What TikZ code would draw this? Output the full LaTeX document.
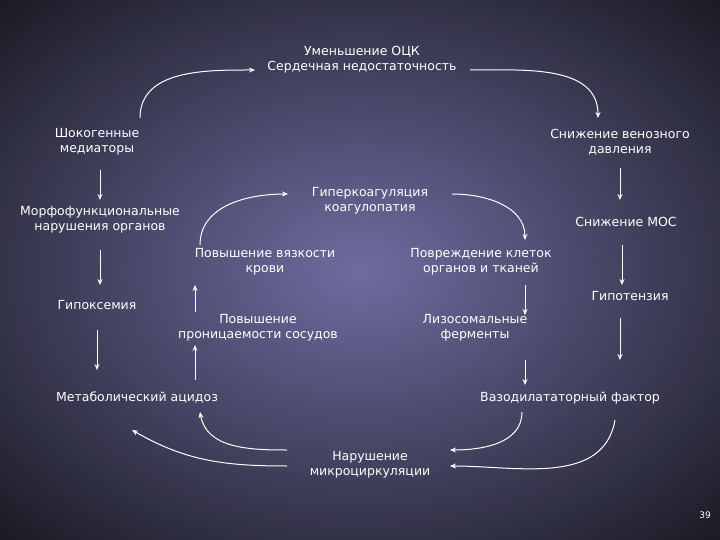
\documentclass[tikz,border=0pt]{standalone}
\usepackage{fontspec}
\setmainfont{DejaVu Sans}
\usetikzlibrary{arrows.meta}
\begin{document}
\begin{tikzpicture}[x=1pt,y=-1pt,
  lbl/.style={text=white,font=\fontsize{12.5}{15}\selectfont,align=center,inner sep=1pt},
  arr/.style={draw=white,line width=1pt,-{Stealth[length=6pt,width=5pt]}}]
\useasboundingbox (0,0) rectangle (720,540);
\shade[inner color={rgb,255:red,110;green,108;blue,160},outer color={rgb,255:red,28;green,28;blue,38}] (-150,-100) rectangle (870,640);
\node[lbl] (top) at (362,60) {Уменьшение ОЦК\\Сердечная недостаточность};
\node[lbl] (shok) at (97,142) {Шокогенные\\медиаторы};
\node[lbl] (morf) at (100,220) {Морфофункциональные\\нарушения органов};
\node[lbl] (gipox) at (97,305) {Гипоксемия};
\node[lbl] (metab) at (137,398) {Метаболический ацидоз};
\node[lbl] (ven) at (620,142) {Снижение венозного\\давления};
\node[lbl] (mos) at (626,222) {Снижение МОС};
\node[lbl] (gipot) at (630,296) {Гипотензия};
\node[lbl] (vazo) at (570,398) {Вазодилататорный фактор};
\node[lbl] (giper) at (370,201) {Гиперкоагуляция\\коагулопатия};
\node[lbl] (vyaz) at (265,262) {Повышение вязкости\\крови};
\node[lbl] (povr) at (481,262) {Повреждение клеток\\органов и тканей};
\node[lbl] (pron) at (258,328) {Повышение\\проницаемости сосудов};
\node[lbl] (liz) at (475,328) {Лизосомальные\\ферменты};
\node[lbl] (micro) at (370,465) {Нарушение\\микроциркуляции};
\node[text=white,font=\small] (num) at (705,515) {39};
% top arcs
\draw[arr] (140,118) to[out=90,in=180] (255,70);
\draw[arr] (470,70) to[out=0,in=90] (598,118);
% left column
\draw[arr] (100,170) -- (100,200);
\draw[arr] (100,250) -- (100,285);
\draw[arr] (97,330) -- (97,370);
% right column
\draw[arr] (620,168) -- (620,200);
\draw[arr] (622,245) -- (622,285);
\draw[arr] (620,318) -- (620,360);
% center
\draw[arr] (195,380) -- (195,345);
\draw[arr] (195,312) -- (195,285);
\draw[arr] (200,245) to[out=90,in=180] (288,194);
\draw[arr] (452,194) to[out=0,in=90] (525,240);
\draw[arr] (525,285) -- (525,315);
\draw[arr] (525,360) -- (525,385);
% bottom
\draw[arr] (287,450) to[out=180,in=-80] (200,412);
\draw[arr] (287,466) to[out=180,in=-30] (132,430);
\draw[arr] (522,412) to[out=-90,in=0] (450,450);
\draw[arr] (615,420) to[out=-100,in=0] (450,466);
\end{tikzpicture}
\end{document}
